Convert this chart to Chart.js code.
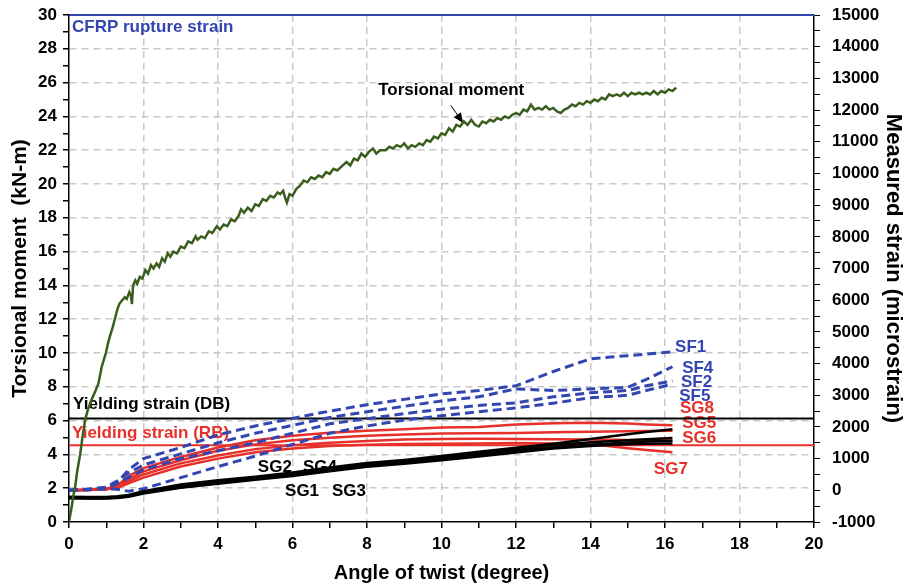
<!DOCTYPE html>
<html>
<head>
<meta charset="utf-8">
<script src="https://cdn.jsdelivr.net/npm/chart.js@4"></script>
<style>
  html, body { margin: 0; padding: 0; background: #fff; }
</style>
</head>
<body>
<canvas id="twistChart" width="911" height="587"></canvas>
<script>
// ---------- Data ----------
// torsional moment (kN-m) vs angle of twist (degree)
const twistT = [0, 0.04, 0.08, 0.12, 0.16, 0.22, 0.3, 0.36, 0.43, 0.5, 0.6, 0.7, 0.79, 0.88, 0.99, 1.05, 1.1, 1.17, 1.23, 1.3,
  1.35, 1.42, 1.5, 1.55, 1.62, 1.66, 1.69, 1.72, 1.78, 1.83, 1.9, 1.97, 2.05, 2.12, 2.2, 2.27, 2.35, 2.42,
  2.5, 2.57, 2.65, 2.72, 2.8, 2.9, 3.0, 3.1, 3.2, 3.3, 3.4, 3.45, 3.55, 3.65, 3.75, 3.85, 3.97, 4.05, 4.15, 4.25,
  4.35, 4.45, 4.55, 4.62, 4.7, 4.8, 4.9, 5.0, 5.1, 5.2, 5.3, 5.4, 5.5, 5.6, 5.67, 5.75, 5.8, 5.85, 5.92, 6.0,
  6.1, 6.2, 6.3, 6.4, 6.5, 6.6, 6.7, 6.8, 6.9, 7.0, 7.1, 7.2, 7.35, 7.45, 7.55, 7.65, 7.75, 7.85, 7.95, 8.05,
  8.16, 8.25, 8.35, 8.5, 8.6, 8.7, 8.8, 8.9, 9.0, 9.1, 9.2, 9.3, 9.4, 9.5, 9.6, 9.7, 9.8, 9.9, 10.0, 10.1,
  10.2, 10.3, 10.4, 10.5, 10.6, 10.7, 10.8, 10.9, 11.0, 11.1, 11.2, 11.3, 11.4, 11.5, 11.6, 11.7, 11.8, 11.9, 12.0, 12.1,
  12.2, 12.3, 12.4, 12.5, 12.6, 12.7, 12.8, 12.9, 13.0, 13.1, 13.2, 13.3, 13.4, 13.5, 13.6, 13.7, 13.8, 13.9, 14.0, 14.1,
  14.2, 14.3, 14.4, 14.5, 14.6, 14.7, 14.8, 14.9, 15.0, 15.1, 15.2, 15.3, 15.4, 15.5, 15.6, 15.7, 15.8, 15.9, 16.0, 16.1,
  16.2, 16.3];
const torque = [0, 0.5, 1, 1.6, 2, 3.0, 4, 5.0, 6, 6.6, 7.2, 7.7, 8.2, 9.2, 10, 10.6, 11, 11.5, 12, 12.6,
  12.9, 13.1, 13.3, 13.2, 13.6, 13.4, 12.9, 14.0, 14.3, 14.1, 14.5, 14.4, 14.9, 14.7, 15.2, 15.0, 15.3, 15.1,
  15.6, 15.4, 15.9, 15.7, 16.0, 15.9, 16.3, 16.2, 16.6, 16.5, 16.9, 16.7, 16.9, 16.8, 17.2, 17.1, 17.5, 17.3, 17.6, 17.5,
  17.9, 17.8, 18.1, 18.5, 18.3, 18.6, 18.4, 18.8, 18.7, 19.1, 19.0, 19.3, 19.2, 19.5, 19.4, 19.6, 19.2, 18.9, 19.4, 19.3,
  19.7, 19.9, 20.2, 20.1, 20.4, 20.3, 20.5, 20.4, 20.7, 20.6, 20.9, 20.8, 21.1, 21.3, 21.1, 21.5, 21.4, 21.8, 21.6, 21.9,
  22.1, 21.8, 22.0, 22.0, 22.2, 22.1, 22.3, 22.2, 22.4, 22.1, 22.3, 22.2, 22.4, 22.3, 22.6, 22.5, 22.8, 22.7, 23.0, 22.9,
  23.3, 23.1, 23.5, 23.4, 23.7, 23.5, 23.8, 23.5, 23.4, 23.7, 23.6, 23.8, 23.7, 23.9, 23.8, 24.0, 23.9, 24.1, 24.2, 24.1,
  24.4, 24.3, 24.7, 24.4, 24.5, 24.4, 24.6, 24.4, 24.5, 24.3, 24.2, 24.4, 24.5, 24.7, 24.6, 24.8, 24.7, 24.9, 24.8, 25.0,
  24.9, 25.1, 25.0, 25.3, 25.2, 25.3, 25.2, 25.4, 25.2, 25.4, 25.3, 25.4, 25.3, 25.4, 25.3, 25.5, 25.3, 25.5, 25.4, 25.6,
  25.5, 25.7];

// measured strain (microstrain) vs angle of twist
const twistS = [0, 0.5, 1, 1.3, 1.6, 2, 3, 4, 5, 6, 7, 8, 9, 10, 11, 12, 13, 14, 15, 15.5, 16.2];
const sf1 = [0, 30, 80, 250, 650, 1000, 1350, 1750, 2030, 2270, 2500, 2700, 2870, 3040, 3150, 3300, 3750, 4150, 4250, 4300, 4370];
const sf4 = [0, 30, 100, 300, 550, 800, 1150, 1500, 1800, 2050, 2300, 2480, 2650, 2820, 2950, 3200, 3150, 3200, 3250, 3500, 3900];
const sf2 = [0, 20, 80, 220, 400, 650, 1000, 1250, 1500, 1800, 2100, 2260, 2420, 2560, 2680, 2760, 2950, 3080, 3150, 3300, 3450];
const sf5 = [0, 20, 50, 30, -30, 50, 400, 750, 1080, 1450, 1800, 2030, 2220, 2350, 2480, 2600, 2750, 2920, 3000, 3150, 3350];
const sg8 = [0, 20, 50, 150, 450, 700, 1050, 1350, 1580, 1720, 1820, 1880, 1930, 1980, 2000, 2080, 2120, 2130, 2110, 2080, 2050];
const sg5 = [0, 15, 40, 120, 350, 600, 950, 1250, 1450, 1580, 1660, 1720, 1760, 1790, 1800, 1810, 1830, 1850, 1860, 1870, 1880];
const sg6 = [0, 10, 30, 100, 280, 500, 850, 1100, 1300, 1420, 1500, 1560, 1600, 1620, 1630, 1620, 1610, 1600, 1590, 1585, 1580];
const sg7 = [0, 10, 30, 80, 220, 400, 750, 1000, 1200, 1320, 1400, 1440, 1460, 1470, 1480, 1490, 1480, 1460, 1330, 1270, 1200];
const sg2 = [-200, -210, -210, -190, -150, -30, 180, 320, 430, 560, 720, 860, 960, 1080, 1220, 1340, 1470, 1620, 1770, 1840, 1930];
const sg4 = [-220, -230, -230, -210, -170, -60, 140, 280, 400, 520, 680, 820, 920, 1040, 1180, 1290, 1420, 1520, 1580, 1610, 1650];
const sg1 = [-240, -250, -250, -230, -190, -80, 100, 240, 360, 480, 630, 780, 880, 1000, 1120, 1230, 1360, 1440, 1510, 1540, 1560];
const sg3 = [-250, -260, -260, -240, -200, -100, 80, 210, 330, 450, 600, 740, 840, 950, 1070, 1190, 1320, 1400, 1450, 1470, 1480];

// reference strain levels (microstrain)
const cfrpRupture = 15000;
const yieldDB = 2270;
const yieldRB = 1420;
const xRange = [0, 20];

// ---------- Colours ----------
const GREEN = "#3b5e1f";
const BLUE = "#3346b0";
const RED = "#e8302a";
const FONT = "'Liberation Sans', Arial, sans-serif";

function pts(xs, ys) {
  return xs.map((x, i) => ({ x: x, y: ys[i] }));
}

function strainLine(label, ys, color, dashed) {
  return {
    label: label,
    data: pts(twistS, ys),
    yAxisID: "y2",
    borderColor: color,
    borderWidth: dashed ? 3 : 2.5,
    borderDash: dashed ? [9, 5] : [],
    pointRadius: 0,
    tension: 0,
  };
}

function levelLine(label, value, color, width) {
  return {
    label: label,
    data: pts(xRange, [value, value]),
    yAxisID: "y2",
    borderColor: color,
    borderWidth: width,
    pointRadius: 0,
    clip: false,
  };
}

// ---------- Text notes (data units, right axis) ----------
const notes = [
  { text: "CFRP rupture strain", x: 0.08, y: 14620, color: BLUE },
  { text: "Torsional moment", x: 8.3, y: 12630, color: "#000" },
  { text: "Yielding strain (DB)", x: 0.11, y: 2720, color: "#000" },
  { text: "Yielding strain (RB)", x: 0.08, y: 1810, color: RED },
  { text: "SG2", x: 5.07, y: 735, color: "#000" },
  { text: "SG4", x: 6.28, y: 735, color: "#000" },
  { text: "SG1", x: 5.8, y: -22, color: "#000" },
  { text: "SG3", x: 7.06, y: -22, color: "#000" },
  { text: "SF1", x: 16.27, y: 4520, color: BLUE },
  { text: "SF4", x: 16.46, y: 3860, color: BLUE },
  { text: "SF2", x: 16.43, y: 3420, color: BLUE },
  { text: "SF5", x: 16.38, y: 2970, color: BLUE },
  { text: "SG8", x: 16.4, y: 2600, color: RED },
  { text: "SG5", x: 16.46, y: 2120, color: RED },
  { text: "SG6", x: 16.46, y: 1650, color: RED },
  { text: "SG7", x: 15.7, y: 670, color: RED },
];
const arrow = { from: [10.25, 12150], to: [10.58, 11590] };

const notesPlugin = {
  id: "notes",
  beforeDatasetsDraw(chart) {
    const { ctx, scales } = chart;
    const xs = scales.x, ys = scales.y2;
    ctx.save();
    ctx.font = "bold 17px " + FONT;
    ctx.textBaseline = "middle";
    ctx.textAlign = "left";
    notes.forEach((n) => {
      ctx.fillStyle = n.color;
      ctx.fillText(n.text, xs.getPixelForValue(n.x), ys.getPixelForValue(n.y));
    });
    // arrow to the moment curve
    const x1 = xs.getPixelForValue(arrow.from[0]), y1 = ys.getPixelForValue(arrow.from[1]);
    const x2 = xs.getPixelForValue(arrow.to[0]), y2 = ys.getPixelForValue(arrow.to[1]);
    const ang = Math.atan2(y2 - y1, x2 - x1);
    ctx.strokeStyle = "#000";
    ctx.lineWidth = 1;
    ctx.beginPath();
    ctx.moveTo(x1, y1);
    ctx.lineTo(x2, y2);
    ctx.stroke();
    ctx.fillStyle = "#000";
    ctx.beginPath();
    ctx.moveTo(x2, y2);
    ctx.lineTo(x2 - 11 * Math.cos(ang - 0.4), y2 - 11 * Math.sin(ang - 0.4));
    ctx.lineTo(x2 - 11 * Math.cos(ang + 0.4), y2 - 11 * Math.sin(ang + 0.4));
    ctx.closePath();
    ctx.fill();
    ctx.restore();
  },
};

// ---------- Chart ----------
const gridColor = (lo, hi, step) => (c) => {
  const v = c.tick ? c.tick.value : null;
  return v !== null && v > lo && v < hi && v % step === 0 ? "#c9c9c9" : "rgba(0,0,0,0)";
};

const tickFont = { family: FONT, size: 17, weight: "bold" };

// fixed axis sizes so the plot area lines up with the original
function fixVertical(width) {
  return (s) => {
    s.width = width;
    s.paddingTop = 0;
    s.paddingBottom = 0;
  };
}

new Chart(document.getElementById("twistChart"), {
  type: "line",
  data: {
    datasets: [
      {
        label: "Torsional moment",
        data: pts(twistT, torque),
        yAxisID: "y",
        borderColor: GREEN,
        borderWidth: 2.5,
        pointRadius: 0,
        tension: 0,
      },
      levelLine("CFRP rupture strain", cfrpRupture, BLUE, 2),
      strainLine("SG2", sg2, "#000", false),
      strainLine("SG4", sg4, "#000", false),
      strainLine("SG1", sg1, "#000", false),
      strainLine("SG3", sg3, "#000", false),
      strainLine("SF1", sf1, BLUE, true),
      strainLine("SF4", sf4, BLUE, true),
      strainLine("SF2", sf2, BLUE, true),
      strainLine("SF5", sf5, BLUE, true),
      strainLine("SG8", sg8, RED, false),
      strainLine("SG5", sg5, RED, false),
      strainLine("SG6", sg6, RED, false),
      strainLine("SG7", sg7, RED, false),
      levelLine("Yielding strain (DB)", yieldDB, "#000", 2),
      levelLine("Yielding strain (RB)", yieldRB, RED, 2),
    ],
  },
  options: {
    responsive: false,
    animation: false,
    layout: { padding: { top: 15 } },
    plugins: { legend: { display: false }, tooltip: { enabled: false } },
    scales: {
      x: {
        type: "linear",
        min: 0,
        max: 20,
        afterFit: (s) => { s.height = 65; },
        ticks: {
          stepSize: 1,
          autoSkip: false,
          maxRotation: 0,
          color: "#000",
          font: tickFont,
          padding: 6,
          callback: (v) => (v % 2 === 0 ? v : ""),
        },
        grid: { color: gridColor(0, 20, 2), lineWidth: 1.5, tickColor: "#000", tickLength: 6 },
        border: { display: true, color: "#000", width: 1.5, dash: [7, 5] },
        title: {
          display: true, text: "Angle of twist (degree)", color: "#000",
          font: { family: FONT, size: 20, weight: "bold" }, padding: { top: 0, bottom: 2 },
        },
      },
      y: {
        position: "left",
        min: 0,
        max: 30,
        afterFit: fixVertical(69),
        ticks: {
          stepSize: 1,
          autoSkip: false,
          color: "#000",
          font: tickFont,
          padding: 6,
          callback: (v) => (v % 2 === 0 ? v : ""),
        },
        grid: { color: gridColor(0, 30, 2), lineWidth: 1.5, tickColor: "#000", tickLength: 6 },
        border: { display: true, color: "#000", width: 1.5, dash: [7, 5] },
        title: {
          display: true, text: "Torsional moment  (kN-m)", color: "#000",
          font: { family: FONT, size: 21, weight: "bold" }, padding: { top: 8, bottom: 0 },
        },
      },
      y2: {
        position: "right",
        min: -1000,
        max: 15000,
        afterFit: fixVertical(97),
        ticks: {
          stepSize: 500,
          autoSkip: false,
          color: "#000",
          font: tickFont,
          padding: 12,
          callback: (v) => (v % 1000 === 0 ? v : ""),
        },
        grid: { drawOnChartArea: false, tickColor: "#000", tickLength: 6 },
        border: { display: true, color: "#000", width: 1.5 },
        title: {
          display: true, text: "Measured strain (microstrain)", color: "#000",
          font: { family: FONT, size: 22, weight: "bold" }, padding: { top: 5, bottom: 0 },
        },
      },
    },
  },
  plugins: [notesPlugin],
});
</script>
</body>
</html>
